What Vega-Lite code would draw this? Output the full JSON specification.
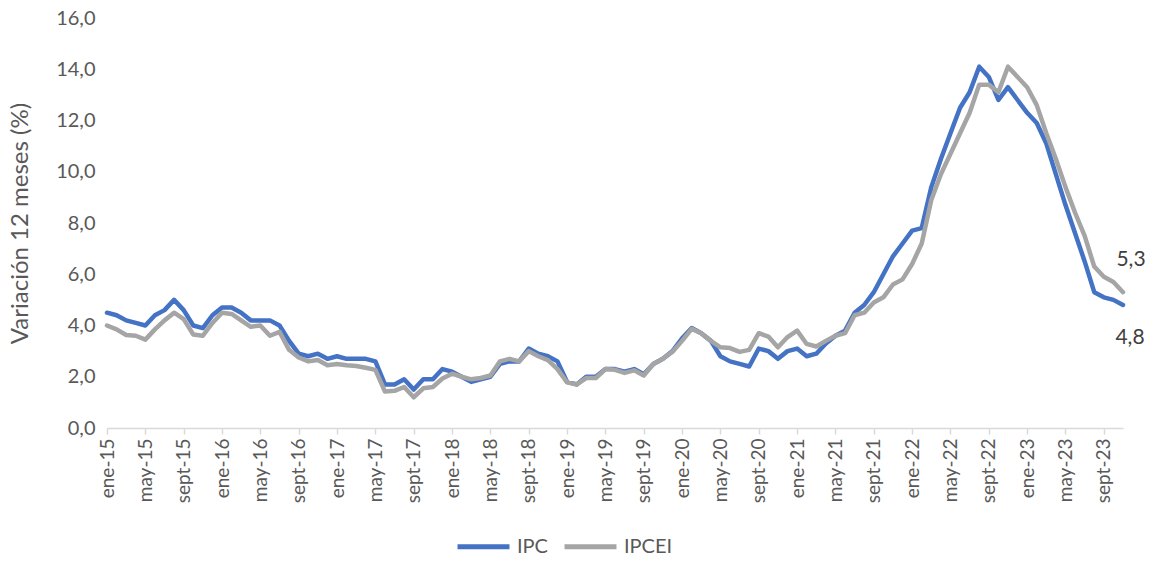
{
  "$schema": "https://vega.github.io/schema/vega-lite/v6.json",
  "width": 1016,
  "height": 410,
  "autosize": {"type": "none"},
  "padding": {"left": 107, "top": 18, "right": 30, "bottom": 133},
  "background": "white",
  "config": {
    "view": {"stroke": null},
    "font": "Lato",
    "locale": {"number": {"decimal": ",", "thousands": ".", "grouping": [3], "currency": ["", ""]}}
  },
  "data": {
    "values": [
      {"mes": "ene-15", "IPC": 4.5, "IPCEI": 4.0},
      {"mes": "feb-15", "IPC": 4.4, "IPCEI": 3.85},
      {"mes": "mar-15", "IPC": 4.2, "IPCEI": 3.63},
      {"mes": "abr-15", "IPC": 4.1, "IPCEI": 3.6},
      {"mes": "may-15", "IPC": 4.0, "IPCEI": 3.45},
      {"mes": "jun-15", "IPC": 4.4, "IPCEI": 3.85},
      {"mes": "jul-15", "IPC": 4.6, "IPCEI": 4.2},
      {"mes": "ago-15", "IPC": 5.0, "IPCEI": 4.5},
      {"mes": "sept-15", "IPC": 4.6, "IPCEI": 4.25},
      {"mes": "oct-15", "IPC": 4.0, "IPCEI": 3.65},
      {"mes": "nov-15", "IPC": 3.9, "IPCEI": 3.6},
      {"mes": "dic-15", "IPC": 4.4, "IPCEI": 4.1},
      {"mes": "ene-16", "IPC": 4.7, "IPCEI": 4.5},
      {"mes": "feb-16", "IPC": 4.7, "IPCEI": 4.45},
      {"mes": "mar-16", "IPC": 4.5, "IPCEI": 4.2},
      {"mes": "abr-16", "IPC": 4.2, "IPCEI": 3.95},
      {"mes": "may-16", "IPC": 4.2, "IPCEI": 4.0},
      {"mes": "jun-16", "IPC": 4.2, "IPCEI": 3.6},
      {"mes": "jul-16", "IPC": 4.0, "IPCEI": 3.75},
      {"mes": "ago-16", "IPC": 3.4, "IPCEI": 3.05},
      {"mes": "sept-16", "IPC": 2.9, "IPCEI": 2.75},
      {"mes": "oct-16", "IPC": 2.8, "IPCEI": 2.6},
      {"mes": "nov-16", "IPC": 2.9, "IPCEI": 2.65},
      {"mes": "dic-16", "IPC": 2.7, "IPCEI": 2.45},
      {"mes": "ene-17", "IPC": 2.8, "IPCEI": 2.5},
      {"mes": "feb-17", "IPC": 2.7, "IPCEI": 2.45},
      {"mes": "mar-17", "IPC": 2.7, "IPCEI": 2.42},
      {"mes": "abr-17", "IPC": 2.7, "IPCEI": 2.35},
      {"mes": "may-17", "IPC": 2.6, "IPCEI": 2.27},
      {"mes": "jun-17", "IPC": 1.7, "IPCEI": 1.42},
      {"mes": "jul-17", "IPC": 1.7, "IPCEI": 1.45},
      {"mes": "ago-17", "IPC": 1.9, "IPCEI": 1.6},
      {"mes": "sept-17", "IPC": 1.5, "IPCEI": 1.2},
      {"mes": "oct-17", "IPC": 1.9, "IPCEI": 1.55},
      {"mes": "nov-17", "IPC": 1.9, "IPCEI": 1.6},
      {"mes": "dic-17", "IPC": 2.3, "IPCEI": 1.93},
      {"mes": "ene-18", "IPC": 2.2, "IPCEI": 2.12},
      {"mes": "feb-18", "IPC": 2.0, "IPCEI": 2.0},
      {"mes": "mar-18", "IPC": 1.8, "IPCEI": 1.9},
      {"mes": "abr-18", "IPC": 1.9, "IPCEI": 1.95},
      {"mes": "may-18", "IPC": 2.0, "IPCEI": 2.05},
      {"mes": "jun-18", "IPC": 2.5, "IPCEI": 2.6},
      {"mes": "jul-18", "IPC": 2.6, "IPCEI": 2.7},
      {"mes": "ago-18", "IPC": 2.6, "IPCEI": 2.6},
      {"mes": "sept-18", "IPC": 3.1, "IPCEI": 3.0},
      {"mes": "oct-18", "IPC": 2.9, "IPCEI": 2.8},
      {"mes": "nov-18", "IPC": 2.8, "IPCEI": 2.65},
      {"mes": "dic-18", "IPC": 2.6, "IPCEI": 2.3},
      {"mes": "ene-19", "IPC": 1.8, "IPCEI": 1.78},
      {"mes": "feb-19", "IPC": 1.7, "IPCEI": 1.7},
      {"mes": "mar-19", "IPC": 2.0, "IPCEI": 1.95},
      {"mes": "abr-19", "IPC": 2.0, "IPCEI": 1.95},
      {"mes": "may-19", "IPC": 2.3, "IPCEI": 2.3},
      {"mes": "jun-19", "IPC": 2.3, "IPCEI": 2.27},
      {"mes": "jul-19", "IPC": 2.2, "IPCEI": 2.15},
      {"mes": "ago-19", "IPC": 2.3, "IPCEI": 2.25},
      {"mes": "sept-19", "IPC": 2.1, "IPCEI": 2.05},
      {"mes": "oct-19", "IPC": 2.5, "IPCEI": 2.5},
      {"mes": "nov-19", "IPC": 2.7, "IPCEI": 2.7},
      {"mes": "dic-19", "IPC": 3.0, "IPCEI": 2.98},
      {"mes": "ene-20", "IPC": 3.5, "IPCEI": 3.4},
      {"mes": "feb-20", "IPC": 3.9, "IPCEI": 3.87},
      {"mes": "mar-20", "IPC": 3.7, "IPCEI": 3.7},
      {"mes": "abr-20", "IPC": 3.4, "IPCEI": 3.4},
      {"mes": "may-20", "IPC": 2.8, "IPCEI": 3.15},
      {"mes": "jun-20", "IPC": 2.6, "IPCEI": 3.12},
      {"mes": "jul-20", "IPC": 2.5, "IPCEI": 2.97},
      {"mes": "ago-20", "IPC": 2.4, "IPCEI": 3.05},
      {"mes": "sept-20", "IPC": 3.1, "IPCEI": 3.7},
      {"mes": "oct-20", "IPC": 3.0, "IPCEI": 3.57},
      {"mes": "nov-20", "IPC": 2.7, "IPCEI": 3.15},
      {"mes": "dic-20", "IPC": 3.0, "IPCEI": 3.55},
      {"mes": "ene-21", "IPC": 3.1, "IPCEI": 3.8},
      {"mes": "feb-21", "IPC": 2.8, "IPCEI": 3.28},
      {"mes": "mar-21", "IPC": 2.9, "IPCEI": 3.18},
      {"mes": "abr-21", "IPC": 3.3, "IPCEI": 3.4},
      {"mes": "may-21", "IPC": 3.6, "IPCEI": 3.6},
      {"mes": "jun-21", "IPC": 3.8, "IPCEI": 3.7},
      {"mes": "jul-21", "IPC": 4.5, "IPCEI": 4.4},
      {"mes": "ago-21", "IPC": 4.8, "IPCEI": 4.5},
      {"mes": "sept-21", "IPC": 5.3, "IPCEI": 4.9},
      {"mes": "oct-21", "IPC": 6.0, "IPCEI": 5.1},
      {"mes": "nov-21", "IPC": 6.7, "IPCEI": 5.6},
      {"mes": "dic-21", "IPC": 7.2, "IPCEI": 5.8},
      {"mes": "ene-22", "IPC": 7.7, "IPCEI": 6.4},
      {"mes": "feb-22", "IPC": 7.8, "IPCEI": 7.2},
      {"mes": "mar-22", "IPC": 9.4, "IPCEI": 8.9},
      {"mes": "abr-22", "IPC": 10.5, "IPCEI": 9.9},
      {"mes": "may-22", "IPC": 11.5, "IPCEI": 10.7},
      {"mes": "jun-22", "IPC": 12.5, "IPCEI": 11.5},
      {"mes": "jul-22", "IPC": 13.1, "IPCEI": 12.3},
      {"mes": "ago-22", "IPC": 14.1, "IPCEI": 13.4},
      {"mes": "sept-22", "IPC": 13.7, "IPCEI": 13.4},
      {"mes": "oct-22", "IPC": 12.8, "IPCEI": 13.1},
      {"mes": "nov-22", "IPC": 13.3, "IPCEI": 14.1},
      {"mes": "dic-22", "IPC": 12.8, "IPCEI": 13.7},
      {"mes": "ene-23", "IPC": 12.3, "IPCEI": 13.3},
      {"mes": "feb-23", "IPC": 11.9, "IPCEI": 12.6},
      {"mes": "mar-23", "IPC": 11.1, "IPCEI": 11.5},
      {"mes": "abr-23", "IPC": 9.9, "IPCEI": 10.5},
      {"mes": "may-23", "IPC": 8.7, "IPCEI": 9.4},
      {"mes": "jun-23", "IPC": 7.6, "IPCEI": 8.4},
      {"mes": "jul-23", "IPC": 6.5, "IPCEI": 7.5},
      {"mes": "ago-23", "IPC": 5.3, "IPCEI": 6.3},
      {"mes": "sept-23", "IPC": 5.1, "IPCEI": 5.9},
      {"mes": "oct-23", "IPC": 5.0, "IPCEI": 5.7},
      {"mes": "nov-23", "IPC": 4.8, "IPCEI": 5.3}
    ]
  },
  "transform": [{"fold": ["IPC", "IPCEI"], "as": ["serie", "valor"]}],
  "encoding": {
    "x": {
      "field": "mes",
      "type": "nominal",
      "sort": null,
      "scale": {"type": "point", "padding": 0},
      "axis": {
        "title": null,
        "values": ["ene-15","may-15","sept-15","ene-16","may-16","sept-16","ene-17","may-17","sept-17","ene-18","may-18","sept-18","ene-19","may-19","sept-19","ene-20","may-20","sept-20","ene-21","may-21","sept-21","ene-22","may-22","sept-22","ene-23","may-23","sept-23"],
        "labelAngle": -90,
        "labelAlign": "right",
        "labelBaseline": "middle",
        "labelFontSize": 19,
        "labelColor": "#595959",
        "labelPadding": 4,
        "labelFlush": false,
        "labelOverlap": false,
        "domainColor": "#d9d9d9",
        "domainWidth": 1.5,
        "tickColor": "#d9d9d9",
        "tickWidth": 1.5,
        "tickSize": 6,
        "grid": false
      }
    },
    "y": {
      "field": "valor",
      "type": "quantitative",
      "scale": {"domain": [0, 16], "nice": false},
      "axis": {
        "title": "Variación 12 meses (%)",
        "titleFontSize": 24,
        "titleFontWeight": "normal",
        "titleColor": "#595959",
        "titlePadding": 23,
        "values": [0, 2, 4, 6, 8, 10, 12, 14, 16],
        "format": ".1f",
        "labelFontSize": 20,
        "labelColor": "#595959",
        "labelPadding": 12,
        "domain": false,
        "ticks": false,
        "grid": false
      }
    }
  },
  "layer": [
    {
      "mark": {"type": "line", "strokeWidth": 4.5, "strokeCap": "round", "strokeJoin": "round"},
      "encoding": {
        "color": {
          "field": "serie",
          "type": "nominal",
          "scale": {"domain": ["IPC", "IPCEI"], "range": ["#4472C4", "#A5A5A5"]},
          "legend": {
            "title": null,
            "orient": "none",
            "direction": "horizontal",
            "legendX": 348,
            "legendY": 500,
            "symbolType": "stroke",
            "symbolSize": 2700,
            "symbolStrokeWidth": 5,
            "labelFontSize": 20,
            "labelColor": "#595959",
            "labelOffset": 5,
            "columnPadding": 6
          }
        }
      }
    },
    {
      "transform": [{"filter": "datum.mes == 'nov-23' && datum.serie == 'IPCEI'"}],
      "mark": {"type": "text", "fontSize": 21, "color": "#404040", "dx": 8, "dy": -32},
      "encoding": {"text": {"field": "valor", "type": "quantitative", "format": ".1f"}}
    },
    {
      "transform": [{"filter": "datum.mes == 'nov-23' && datum.serie == 'IPC'"}],
      "mark": {"type": "text", "fontSize": 21, "color": "#404040", "dx": 7, "dy": 33},
      "encoding": {"text": {"field": "valor", "type": "quantitative", "format": ".1f"}}
    }
  ]
}
